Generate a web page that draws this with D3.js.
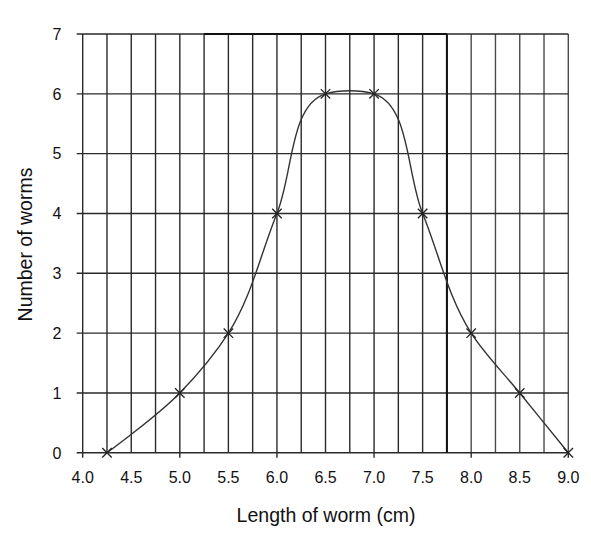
<!DOCTYPE html>
<html>
<head>
<meta charset="utf-8">
<script src="https://cdn.jsdelivr.net/npm/d3@7/dist/d3.min.js"></script>
<style>
  html, body { margin: 0; padding: 0; background: #fff; }
  svg { display: block; }
  text { font-family: "Liberation Sans", Arial, sans-serif; fill: #111; }
</style>
</head>
<body>
<svg id="chart" width="591" height="533"></svg>
<script>
// ---- data ----
const lengths = [4.25, 5.0, 5.5, 6.0, 6.5, 7.0, 7.5, 8.0, 8.5, 9.0];
const counts  = [0, 1, 2, 4, 6, 6, 4, 2, 1, 0];
const xTickLabels = ["4.0","4.5","5.0","5.5","6.0","6.5","7.0","7.5","8.0","8.5","9.0"];
const yTickLabels = ["0","1","2","3","4","5","6","7"];
const xGridValues = [4.0,4.25,4.5,4.75,5.0,5.25,5.5,5.75,6.0,6.25,6.5,6.75,7.0,7.25,7.5,7.75,8.0,8.25,8.5,8.75,9.0];
const xMajorTicks = [4, 5, 6, 7, 8, 9];
const xTitle = "Length of worm (cm)";
const yTitle = "Number of worms";

(function () {
// ---- layout ----
const svg = d3.select("#chart");
const pLeft = 82.7, pRight = 568.3, pTop = 34, pBottom = 452.8;

const x = d3.scaleLinear().domain([4, 9]).range([pLeft, pRight]);
const y = d3.scaleLinear().domain([0, 7]).range([pBottom, pTop]);

svg.append("rect").attr("width", 591).attr("height", 533).attr("fill", "#fff");

const g = svg.append("g");

// vertical grid lines
g.selectAll("line.vgrid").data(xGridValues).enter().append("line")
  .attr("class", "vgrid")
  .attr("x1", d => x(d)).attr("x2", d => x(d))
  .attr("y1", y(7)).attr("y2", y(0))
  .attr("stroke", d => d > 7.8 ? "#4a4a4a" : "#2a2a2a")
  .attr("stroke-width", 1.4);

// horizontal grid lines (with tick extending left)
g.selectAll("line.hgrid").data(yTickLabels).enter().append("line")
  .attr("class", "hgrid")
  .attr("x1", pLeft - 6).attr("x2", x(9))
  .attr("y1", d => y(+d)).attr("y2", d => y(+d))
  .attr("stroke", "#2a2a2a")
  .attr("stroke-width", 1.4);

// x tick marks below axis
g.selectAll("line.xtick").data(xMajorTicks).enter().append("line")
  .attr("x1", d => x(d)).attr("x2", d => x(d))
  .attr("y1", y(0)).attr("y2", y(0) + 5)
  .attr("stroke", "#2a2a2a").attr("stroke-width", 1.4);

// emphasised rectangle edge (as in reference)
g.append("line")
  .attr("x1", x(5.25)).attr("x2", x(7.75))
  .attr("y1", y(7)).attr("y2", y(7))
  .attr("stroke", "#111").attr("stroke-width", 2.2);
g.append("line")
  .attr("x1", x(7.75)).attr("x2", x(7.75))
  .attr("y1", y(7)).attr("y2", y(0))
  .attr("stroke", "#111").attr("stroke-width", 2);

// x tick labels
g.selectAll("text.xlab").data(xTickLabels).enter().append("text")
  .attr("x", d => x(+d))
  .attr("y", pBottom + 30.5)
  .attr("text-anchor", "middle")
  .attr("font-size", 16)
  .text(d => d);

// y tick labels
g.selectAll("text.ylab").data(yTickLabels).enter().append("text")
  .attr("x", 61.5)
  .attr("y", d => y(+d) + 5.8)
  .attr("text-anchor", "end")
  .attr("font-size", 16)
  .text(d => d);

// axis titles
svg.append("text")
  .attr("x", 326).attr("y", 522)
  .attr("text-anchor", "middle")
  .attr("font-size", 19.5)
  .text(xTitle);

svg.append("text")
  .attr("transform", "translate(32,244.5) rotate(-90)")
  .attr("text-anchor", "middle")
  .attr("font-size", 19.5)
  .text(yTitle);

// curve
const pts = lengths.map((d, i) => [d, counts[i]]);
const line = d3.line()
  .x(d => x(d[0])).y(d => y(d[1]))
  .curve(d3.curveCatmullRom.alpha(1));

svg.append("path")
  .datum(pts)
  .attr("d", line)
  .attr("fill", "none")
  .attr("stroke", "#333")
  .attr("stroke-width", 1.4);

// markers
const sym = d3.symbol().type(d3.symbolTimes).size(60);
svg.selectAll("path.mk").data(pts).enter().append("path")
  .attr("transform", d => `translate(${x(d[0])},${y(d[1])})`)
  .attr("d", sym)
  .attr("fill", "none")
  .attr("stroke", "#222")
  .attr("stroke-width", 1.3);
})();
</script>
</body>
</html>
